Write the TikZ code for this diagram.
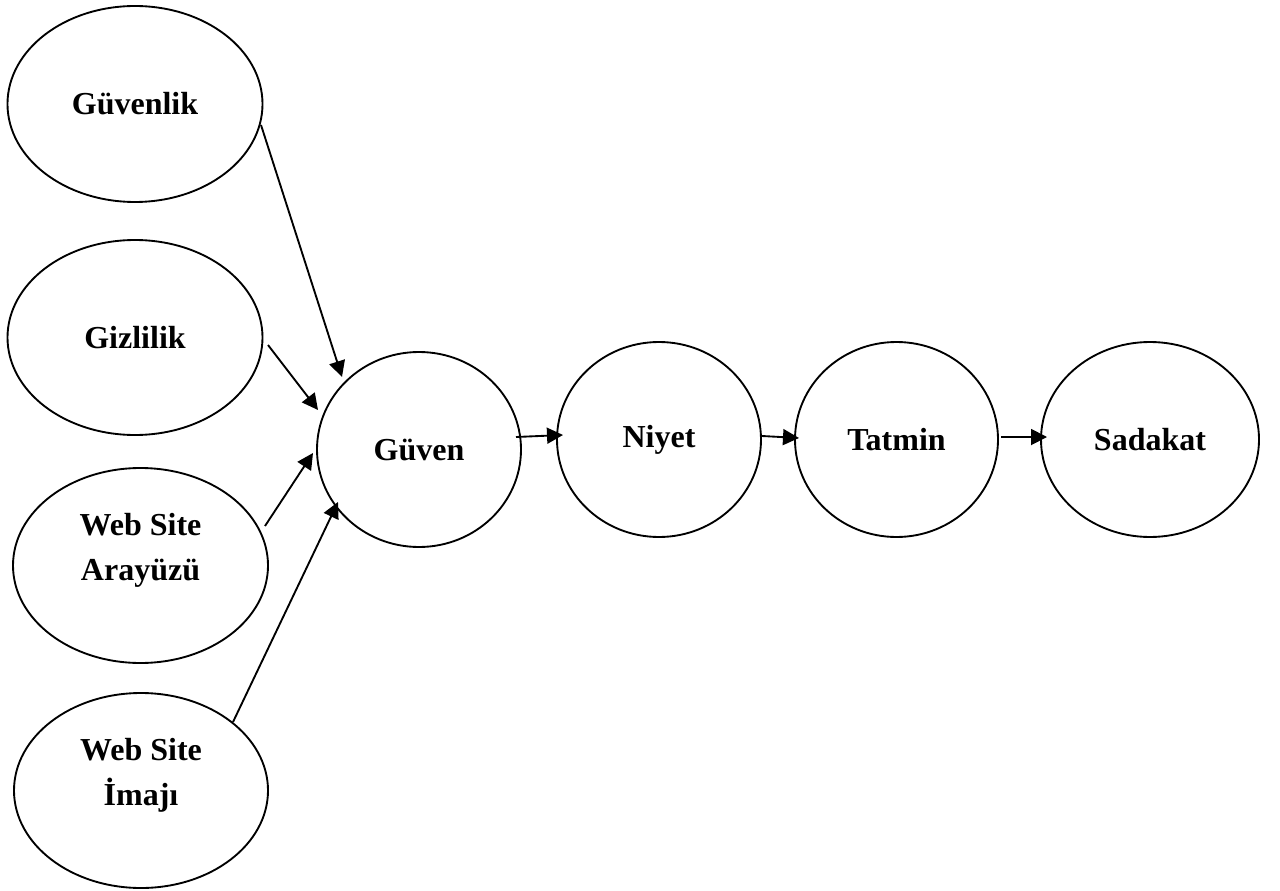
\documentclass[tikz,border=0pt]{standalone}
\usepackage{fontspec}
\setmainfont{Liberation Serif}
\usetikzlibrary{shapes.geometric,arrows.meta}
\begin{document}
\begin{tikzpicture}[x=0.75pt,y=-0.75pt,
  ell/.style={draw,ellipse,line width=1.4pt,inner sep=0pt,minimum height=146.25pt,
    font=\fontsize{24}{33.75}\selectfont\bfseries},
  txt/.style={align=center,inner sep=0pt,font=\fontsize{24}{33.75}\selectfont\bfseries},
  arr/.style={line width=1.4pt,-{Triangle[length=12pt,width=12pt]}}]
\useasboundingbox (0,0) rectangle (1280,891);
% ellipses
\node[ell,minimum width=191.25pt,minimum height=147pt] (guvenlik) at (135,104) {Güvenlik};
\node[ell,minimum width=191.25pt] (gizlilik) at (135,337.5) {Gizlilik};
\node[ell,minimum width=191.25pt] (arayuz) at (140.5,565.5) {};
\node[txt] (arayuzT) at (140.5,550) {Web Site\\Arayüzü};
\node[ell,minimum width=190.5pt] (imaj) at (141,790.5) {};
\node[txt] (imajT) at (141,775) {Web Site\\İmajı};
\node[ell,minimum width=153pt] (guven) at (419,449.5) {Güven};
\node[ell,minimum width=153pt] (niyet) at (659,439.5) {Niyet};
\node[ell,minimum width=152.25pt] (tatmin) at (896.5,439.5) {Tatmin};
\node[ell,minimum width=163.5pt] (sadakat) at (1150,439.5) {Sadakat};
% arrow end points
\coordinate (a1s) at (261,125);  \coordinate (a1e) at (342,377);
\coordinate (a2s) at (268,345);  \coordinate (a2e) at (318,410);
\coordinate (a3s) at (265,526);  \coordinate (a3e) at (313,453);
\coordinate (a4s) at (233,722);  \coordinate (a4e) at (338,502);
\coordinate (b1s) at (516,437);  \coordinate (b1e) at (563,435);
\coordinate (b2s) at (762,436);  \coordinate (b2e) at (799,438);
\coordinate (b3s) at (1001,437); \coordinate (b3e) at (1047,437);
\draw[arr] (a1s) -- (a1e);
\draw[arr] (a2s) -- (a2e);
\draw[arr] (a3s) -- (a3e);
\draw[arr] (a4s) -- (a4e);
\draw[arr] (b1s) -- (b1e);
\draw[arr] (b2s) -- (b2e);
\draw[arr] (b3s) -- (b3e);
\end{tikzpicture}
\end{document}
